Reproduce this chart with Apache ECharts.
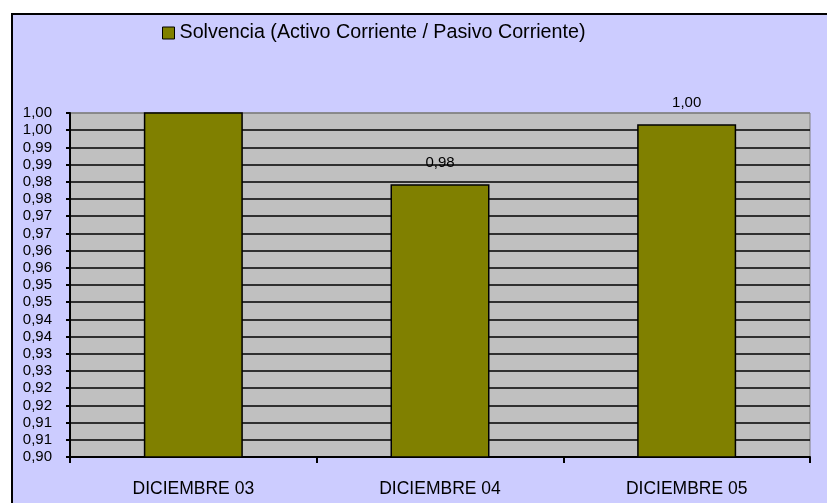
<!DOCTYPE html>
<html>
<head>
<meta charset="utf-8">
<script src="https://cdn.jsdelivr.net/npm/echarts@6/dist/echarts.min.js"></script>
<style>
html, body { margin: 0; padding: 0; background: #ffffff; }
#wrap { position: relative; width: 827px; height: 503px; overflow: hidden; background: #ffffff; }
#frame { position: absolute; left: 11px; top: 13px; width: 900px; height: 600px;
         background: #CCCCFF; border-left: 2px solid #000; border-top: 2px solid #000; }
#chart { position: absolute; left: 0; top: 0; width: 827px; height: 503px; }
</style>
</head>
<body>
<div id="wrap">
  <div id="frame"></div>
  <div id="chart"></div>
</div>
<script>
// datos del grafico
var categorias = ['DICIEMBRE 03', 'DICIEMBRE 04', 'DICIEMBRE 05'];
var solvencia = [1.0017, 0.9793, 0.9967];
var etiquetasY = ['0,90', '0,91', '0,91', '0,92', '0,92', '0,93', '0,93', '0,94', '0,94', '0,95', '0,95',
                  '0,96', '0,96', '0,97', '0,97', '0,98', '0,98', '0,99', '0,99', '1,00', '1,00'];
var nombreSerie = 'Solvencia (Activo Corriente / Pasivo Corriente)';

var yMin = 0.90, yMax = 1.00, yPaso = 0.005;
var fuente = "'Liberation Sans', Arial, sans-serif";

var coloresRejilla = etiquetasY.map(function (e, i) {
    return i === etiquetasY.length - 1 ? '#808080' : '#000000';
});

var datosBarras = solvencia.map(function (v) {
    return { value: v, label: { show: v <= yMax } };
});

var myChart = echarts.init(document.getElementById('chart'));
myChart.setOption({
    backgroundColor: 'transparent',
    animation: false,
    textStyle: { fontFamily: fuente },
    legend: {
        left: 157,
        top: 18,
        itemWidth: 12,
        itemHeight: 12,
        itemGap: 5,
        icon: 'rect',
        textStyle: { fontSize: 19.7, color: '#000', fontFamily: fuente },
        itemStyle: { borderColor: '#000', borderWidth: 1 },
        data: [nombreSerie]
    },
    grid: {
        left: 70,
        right: 17,
        top: 113,
        bottom: 46,
        show: true,
        backgroundColor: '#C0C0C0',
        borderColor: '#808080',
        borderWidth: 1
    },
    xAxis: {
        type: 'category',
        data: categorias,
        boundaryGap: true,
        axisLine: { lineStyle: { color: '#000', width: 2 } },
        axisTick: { show: true, alignWithLabel: false, length: 6, lineStyle: { color: '#000', width: 2 } },
        axisLabel: {
            margin: 23,
            fontSize: 17.5,
            color: '#000',
            fontFamily: fuente
        }
    },
    yAxis: {
        type: 'value',
        min: yMin,
        max: yMax,
        interval: yPaso,
        axisLine: { show: true, lineStyle: { color: '#000', width: 2 } },
        axisTick: { show: true, length: 4, lineStyle: { color: '#000', width: 2 } },
        axisLabel: {
            margin: 18,
            fontSize: 15,
            color: '#000',
            fontFamily: fuente,
            formatter: function (val, idx) { return etiquetasY[idx]; }
        },
        splitLine: { show: true, lineStyle: { color: coloresRejilla, width: 1.5 } }
    },
    series: [{
        name: nombreSerie,
        type: 'bar',
        barWidth: 99,
        clip: true,
        itemStyle: { color: '#808000', borderColor: '#000', borderWidth: 1.5 },
        label: {
            show: true,
            position: 'top',
            distance: 14,
            fontSize: 15,
            color: '#000',
            fontFamily: fuente,
            formatter: function (p) { return p.value.toFixed(2).replace('.', ','); }
        },
        data: datosBarras
    }]
});
</script>
</body>
</html>
